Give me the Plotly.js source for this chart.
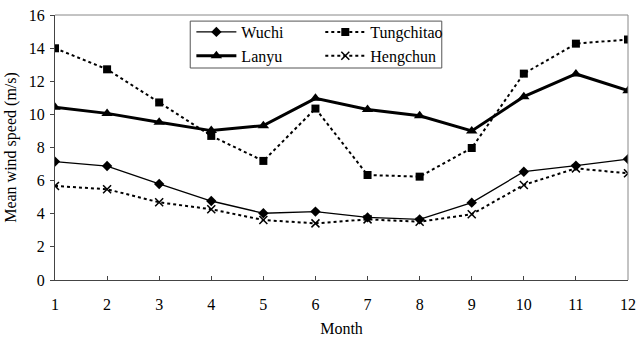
<!DOCTYPE html>
<html>
<head>
<meta charset="utf-8">
<script src="https://cdn.plot.ly/plotly-3.0.1.min.js"></script>
<style>
  html, body { margin: 0; padding: 0; background: #fff; }
  #chart { width: 636px; height: 337px; }
</style>
</head>
<body>
<div id="chart"></div>
<script>
// Monthly mean wind speed (m/s) at four stations
var months = [1, 2, 3, 4, 5, 6, 7, 8, 9, 10, 11, 12];
var wuchi      = [7.15, 6.88, 5.80, 4.77, 4.03, 4.13, 3.78, 3.66, 4.67, 6.54, 6.90, 7.30];
var tungchitao = [13.99, 12.72, 10.72, 8.70, 7.19, 10.35, 6.34, 6.24, 7.97, 12.46, 14.27, 14.52];
var lanyu      = [10.43, 10.06, 9.52, 9.02, 9.32, 10.97, 10.30, 9.92, 9.00, 11.07, 12.44, 11.43];
var hengchun   = [5.68, 5.48, 4.69, 4.27, 3.62, 3.42, 3.66, 3.52, 3.97, 5.74, 6.74, 6.44];
var yTicks = [0, 2, 4, 6, 8, 10, 12, 14, 16];

var serif = 'Liberation Serif';

var traces = [
  { name: 'Wuchi', x: months, y: wuchi, mode: 'lines+markers', legend: 'legend',
    line: { color: '#000', width: 1.3 },
    marker: { symbol: 'diamond', size: 8, color: '#000' } },
  { name: 'Lanyu', x: months, y: lanyu, mode: 'lines+markers', legend: 'legend',
    line: { color: '#000', width: 3 },
    marker: { symbol: 'triangle-up', size: 10, color: '#000' } },
  { name: 'Tungchitao', x: months, y: tungchitao, mode: 'lines+markers', legend: 'legend2',
    line: { color: '#000', width: 2, dash: '3px,3px' },
    marker: { symbol: 'square', size: 8, color: '#000' } },
  { name: 'Hengchun', x: months, y: hengchun, mode: 'lines+markers', legend: 'legend2',
    line: { color: '#000', width: 2, dash: '3px,3px' },
    marker: { symbol: 'x-thin-open', size: 8, color: '#000', line: { width: 1.5, color: '#000' } } }
];

var legendStyle = {
  orientation: 'v', xanchor: 'left', yanchor: 'top',
  bgcolor: 'rgba(0,0,0,0)', borderwidth: 0,
  font: { family: serif, size: 16, color: '#000' },
  tracegroupgap: 0, itemwidth: 40
};

var layout = {
  width: 636, height: 337,
  margin: { l: 55, r: 8, t: 15, b: 57 },
  paper_bgcolor: '#fff', plot_bgcolor: '#fff',
  showlegend: true,
  font: { family: serif, size: 15, color: '#000' },
  xaxis: {
    range: [1, 12], tickvals: months, ticktext: months.map(String),
    showgrid: false, zeroline: false,
    showline: true, linecolor: '#444', linewidth: 1,
    ticks: 'inside', ticklen: 4, tickcolor: '#444',
    ticklabelstandoff: 10,
    tickfont: { family: serif, size: 16, color: '#000' },
    title: { text: 'Month', font: { family: serif, size: 16 }, standoff: 12 }
  },
  yaxis: {
    range: [0, 16], tickvals: yTicks, ticktext: yTicks.map(String),
    showgrid: false, zeroline: false,
    showline: true, linecolor: '#444', linewidth: 1,
    ticks: 'outside', ticklen: 4, tickcolor: '#444',
    ticklabelstandoff: 2,
    tickfont: { family: serif, size: 16, color: '#000' },
    title: { text: 'Mean wind speed (m/s)', font: { family: serif, size: 16 }, standoff: 8 }
  },
  legend: Object.assign({ x: 0.238, y: 1.0 }, legendStyle),
  legend2: Object.assign({ x: 0.463, y: 1.0 }, legendStyle),
  shapes: [
    // plot frame: top and right edges
    { type: 'line', xref: 'paper', yref: 'paper', x0: 0, x1: 1, y0: 1, y1: 1,
      line: { color: '#888', width: 1 } },
    { type: 'line', xref: 'paper', yref: 'paper', x0: 1, x1: 1, y0: 0, y1: 1,
      line: { color: '#888', width: 1 } },
    // legend frame
    { type: 'rect', xref: 'paper', yref: 'paper', x0: 0.236, x1: 0.675, y0: 0.8, y1: 0.977,
      line: { color: '#555', width: 1 }, fillcolor: 'rgba(0,0,0,0)' }
  ]
};

Plotly.newPlot('chart', traces, layout, { displayModeBar: false, staticPlot: true });
</script>
</body>
</html>
